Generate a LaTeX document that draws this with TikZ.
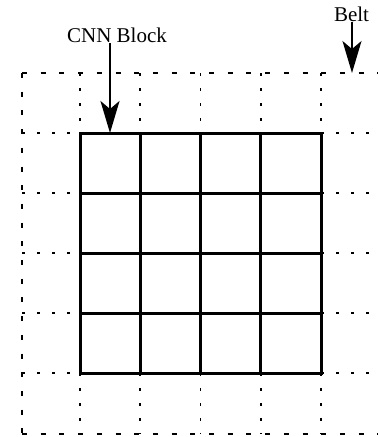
\documentclass[tikz,border=0pt]{standalone}
\usepackage{fontspec}
\setmainfont{Liberation Serif}
\usetikzlibrary{arrows.meta}
\begin{document}
\begin{tikzpicture}[x=1pt,y=-1pt,
  outerdot/.style={line width=2.4pt,dash pattern=on 5pt off 13.7pt},
  innerdot/.style={line width=1.9pt,dash pattern=on 3pt off 12pt},
  solidgrid/.style={line width=3pt,line cap=rect},
  lbl/.style={font=\fontsize{21}{25}\selectfont,inner sep=0pt,anchor=base},
  bigarrow/.style={-{Stealth[length=32pt,width=19pt,inset=8pt]}}]
\useasboundingbox (0,0) rectangle (378,437);
% inner dotted lines
\foreach \y in {133,193,253,313,373}{
  \draw[innerdot] (22,\y) -- (80,\y);
  \draw[innerdot] (321,\y) -- (378,\y);
}
\foreach \x in {80,140.25,200.5,260.75,321}{
  \draw[innerdot] (\x,73) -- (\x,133);
  \draw[innerdot] (\x,373) -- (\x,434);
}
% outer dotted belt border
\draw[outerdot] (22,73) -- (378,73);
\draw[outerdot] (22,73) -- (22,434);
\draw[outerdot] (22,434) -- (378,434);
% solid CNN grid
\foreach \y in {133,193,253,313,373}
  \draw[solidgrid] (80,\y) -- (321,\y);
\foreach \x in {80,140.25,200.5,260.75,321}
  \draw[solidgrid] (\x,133) -- (\x,373);
% labels and arrows
\node[lbl] (cnn) at (117,42) {CNN Block};
\node[lbl] (belt) at (351.5,21) {Belt};
\coordinate (cnntip) at (110,133);
\coordinate (belttip) at (352,73);
\draw[bigarrow,line width=2.2pt] (cnn.south -| cnntip) ++(0,1) -- (cnntip);
\draw[bigarrow,line width=1.6pt] (belt.south -| belttip) ++(0,1) -- (belttip);
\end{tikzpicture}
\end{document}
